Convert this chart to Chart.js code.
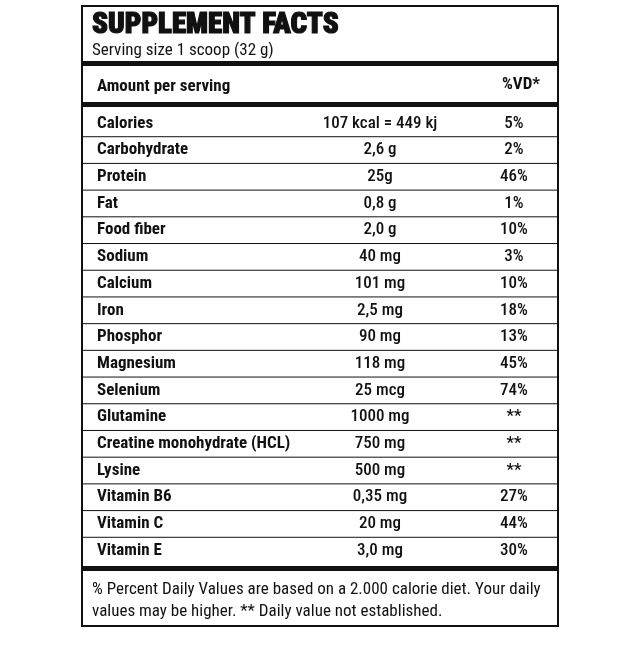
<!DOCTYPE html>
<html>
<head>
<meta charset="utf-8">
<script src="https://cdn.jsdelivr.net/npm/chart.js@4/dist/chart.umd.min.js"></script>
<style>
  html, body { margin: 0; padding: 0; background: #fff; }
  #wrap { width: 640px; height: 654px; }
</style>
</head>
<body>
<div id="wrap"><canvas id="facts"></canvas></div>
<script>
const nutrients = ['Calories', 'Carbohydrate', 'Protein', 'Fat', 'Food fiber', 'Sodium', 'Calcium', 'Iron',
  'Phosphor', 'Magnesium', 'Selenium', 'Glutamine', 'Creatine monohydrate (HCL)', 'Lysine',
  'Vitamin B6', 'Vitamin C', 'Vitamin E'];
const amounts = ['107 kcal = 449 kj', '2,6 g', '25g', '0,8 g', '2,0 g', '40 mg', '101 mg', '2,5 mg',
  '90 mg', '118 mg', '25 mcg', '1000 mg', '750 mg', '500 mg', '0,35 mg', '20 mg', '3,0 mg'];
const dailyValues = ['5%', '2%', '46%', '1%', '10%', '3%', '10%', '18%', '13%', '45%', '74%',
  '**', '**', '**', '27%', '44%', '30%'];
const title = 'SUPPLEMENT FACTS';
const servingText = 'Serving size 1 scoop (32 g)';
const footnote = ['% Percent Daily Values are based on a 2.000 calorie diet. Your daily',
  'values may be higher. ** Daily value not established.'];

const FONT = '"Liberation Sans Narrow", "Roboto Condensed", "DejaVu Sans Condensed", sans-serif';

const factsPlugin = {
  id: 'facts',
  afterDraw(chart) {
    const ctx = chart.ctx;
    const y = chart.scales.y;
    const left = 82, right = 558;
    ctx.save();
    ctx.fillStyle = '#111';
    ctx.strokeStyle = '#111';

    // outer box
    ctx.lineWidth = 2;
    ctx.strokeRect(left, 6, right - left, 620);

    ctx.textBaseline = 'middle';
    ctx.textAlign = 'left';
    ctx.font = '900 29px ' + FONT;
    ctx.fillText(title, 92, 26);
    ctx.lineWidth = 1.2;
    ctx.strokeText(title, 92, 26);
    ctx.font = '17px ' + FONT;
    ctx.fillText(servingText, 92, 51);

    ctx.fillRect(left, 61, right - left, 5);
    ctx.font = 'bold 17px ' + FONT;
    ctx.fillText('Amount per serving', 97, 87);
    ctx.textAlign = 'right';
    ctx.fillText('%VD*', 540, 85);
    ctx.fillRect(left, 102, right - left, 5);

    // rows
    nutrients.forEach((name, i) => {
      const cy = y.getPixelForValue(i);
      ctx.textAlign = 'left';
      ctx.font = 'bold 17px ' + FONT;
      ctx.fillText(name, 97, cy);
      ctx.textAlign = 'center';
      ctx.font = '500 17px ' + FONT;
      ctx.fillText(amounts[i], 380, cy);
      ctx.fillText(dailyValues[i], 514, cy);
      if (i < nutrients.length - 1) {
        const ly = (cy + y.getPixelForValue(i + 1)) / 2;
        ctx.lineWidth = 1;
        ctx.beginPath();
        ctx.moveTo(left, ly);
        ctx.lineTo(right, ly);
        ctx.stroke();
      }
    });

    ctx.fillRect(left, y.bottom + 2, right - left, 5);
    ctx.textAlign = 'left';
    ctx.font = '17px ' + FONT;
    ctx.fillText(footnote[0], 92, 590);
    ctx.fillText(footnote[1], 92, 612);
    ctx.restore();
  }
};

new Chart(document.getElementById('facts'), {
  type: 'bar',
  data: {
    labels: nutrients,
    datasets: [{ data: nutrients.map(() => 0), backgroundColor: 'transparent' }]
  },
  options: {
    indexAxis: 'y',
    responsive: true,
    maintainAspectRatio: false,
    animation: false,
    layout: { padding: { left: 82, right: 82, top: 110, bottom: 90 } },
    plugins: { legend: { display: false }, tooltip: { enabled: false } },
    scales: {
      x: { display: false, min: 0, max: 1 },
      y: { display: false }
    }
  },
  plugins: [factsPlugin]
});
</script>
</body>
</html>
